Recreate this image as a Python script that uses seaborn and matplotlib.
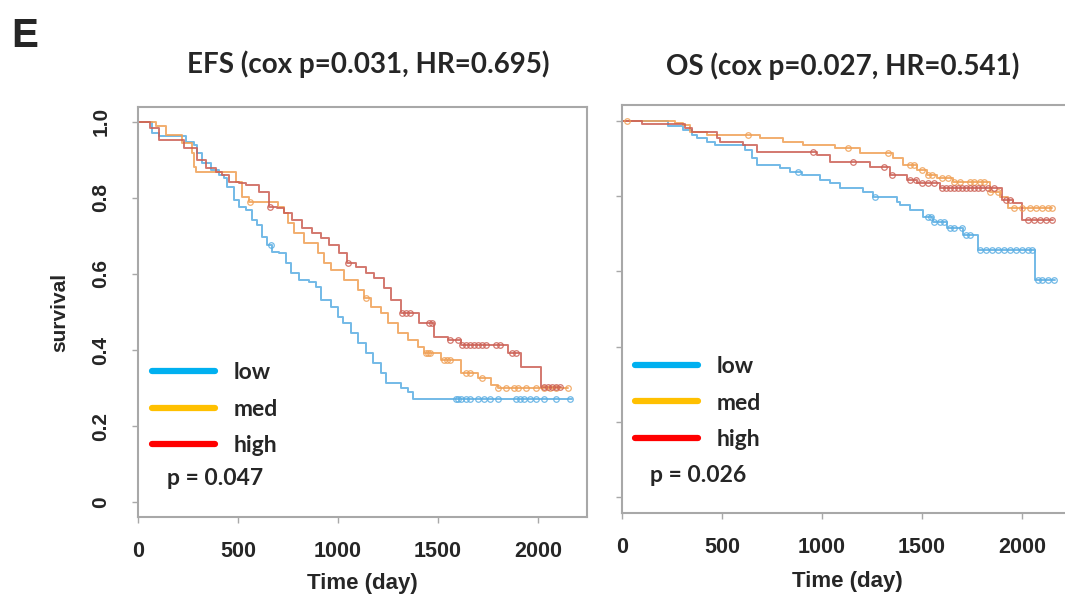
import numpy as np
import pandas as pd
import matplotlib
matplotlib.use("Agg")
import matplotlib.pyplot as plt
import seaborn as sns
from matplotlib.lines import Line2D

sns.set_theme(style="white")
plt.rcParams['font.family'] = ['Liberation Sans', 'DejaVu Sans']

# ---------------- data ----------------
groups = ["low", "med", "high"]

# EFS panel (step change times / survival after step)
efs_low_t = [0, 70, 105, 240, 280, 295, 320, 365, 405, 430, 445, 480, 505, 540, 570, 595, 620, 645, 670, 705,
             740, 765, 805, 855, 890, 915, 965, 1000, 1025, 1065, 1100, 1140, 1175, 1215, 1240, 1315, 1350, 1375, 2170]
efs_low_s = [1.0, 0.971, 0.963, 0.947, 0.939, 0.918, 0.892, 0.874, 0.86, 0.853, 0.829, 0.795, 0.776, 0.768, 0.742,
             0.729, 0.697, 0.676, 0.658, 0.655, 0.629, 0.603, 0.584, 0.579, 0.566, 0.532, 0.513, 0.487, 0.471, 0.445,
             0.418, 0.392, 0.366, 0.339, 0.313, 0.30, 0.29, 0.272, 0.272]
efs_low_c = [665, 1590, 1600, 1615, 1640, 1660, 1700, 1730, 1760, 1800, 1890, 1910, 1930, 1960, 1990, 2030, 2090, 2160]

efs_med_t = [0, 90, 140, 220, 270, 280, 290, 490, 520, 555, 700, 730, 750, 780, 830, 900, 930, 965, 1030,
             1100, 1130, 1165, 1215, 1250, 1300, 1350, 1400, 1430, 1515, 1615, 1700, 1765, 1800, 2150]
efs_med_s = [1.0, 0.99, 0.966, 0.945, 0.918, 0.882, 0.868, 0.842, 0.803, 0.79, 0.776, 0.76, 0.734, 0.708,
             0.682, 0.655, 0.629, 0.611, 0.584, 0.558, 0.537, 0.513, 0.497, 0.471, 0.445, 0.426, 0.408, 0.392,
             0.374, 0.34, 0.326, 0.308, 0.30, 0.30]
efs_med_c = [560, 1140, 1440, 1450, 1460, 1530, 1545, 1560, 1640, 1660, 1720, 1800, 1840, 1880, 1900, 1940,
             1990, 2030, 2060, 2090, 2150]

efs_high_t = [0, 60, 105, 230, 295, 340, 390, 420, 455, 505, 540, 605, 655, 695, 730, 770, 820, 870, 915, 955,
              1005, 1045, 1090, 1140, 1180, 1230, 1265, 1315, 1405, 1480, 1550, 1615, 1850, 1915, 2015, 2115]
efs_high_s = [1.0, 0.985, 0.953, 0.93, 0.90, 0.879, 0.868, 0.861, 0.842, 0.839, 0.834, 0.816, 0.776, 0.774,
              0.76, 0.742, 0.721, 0.708, 0.695, 0.676, 0.655, 0.629, 0.618, 0.603, 0.589, 0.563, 0.532, 0.497,
              0.471, 0.434, 0.426, 0.413, 0.392, 0.355, 0.303, 0.303]
efs_high_c = [660, 1050, 1320, 1340, 1360, 1455, 1470, 1560, 1600, 1620, 1640, 1660, 1680, 1700, 1720, 1740,
              1790, 1810, 1870, 1890, 2030, 2050, 2070, 2090, 2110]

# OS panel
os_low_t = [0, 230, 305, 350, 375, 425, 465, 615, 650, 675, 790, 840, 900, 990, 1040, 1090, 1205, 1255, 1375,
            1390, 1440, 1505, 1555, 1625, 1705, 1780, 2065, 2165]
os_low_s = [1.0, 0.987, 0.976, 0.963, 0.955, 0.944, 0.936, 0.923, 0.902, 0.883, 0.875, 0.864, 0.856, 0.843,
            0.835, 0.822, 0.811, 0.798, 0.785, 0.777, 0.763, 0.745, 0.731, 0.715, 0.697, 0.657, 0.577, 0.577]
os_low_c = [880, 1265, 1530, 1545, 1560, 1590, 1610, 1640, 1660, 1700, 1720, 1740, 1790, 1820, 1850, 1880,
            1910, 1940, 1970, 2000, 2030, 2050, 2080, 2100, 2130, 2160]

os_med_t = [0, 265, 305, 340, 425, 690, 805, 905, 1065, 1190, 1355, 1405, 1475, 1525, 1575, 1655, 1840, 1890,
            1930, 2150]
os_med_s = [1.0, 0.995, 0.989, 0.971, 0.963, 0.955, 0.944, 0.936, 0.928, 0.915, 0.902, 0.883, 0.87, 0.856,
            0.848, 0.838, 0.811, 0.798, 0.769, 0.769]
os_med_c = [25, 630, 1130, 1330, 1440, 1460, 1500, 1530, 1550, 1600, 1630, 1660, 1690, 1740, 1760, 1790,
            1810, 1840, 1880, 1960, 2000, 2040, 2070, 2100, 2130, 2150]

os_high_t = [0, 100, 315, 350, 475, 490, 605, 675, 975, 1040, 1240, 1340, 1425, 1475, 1590, 1900, 1955, 2000,
             2155]
os_high_s = [1.0, 0.992, 0.981, 0.971, 0.955, 0.944, 0.936, 0.918, 0.91, 0.891, 0.878, 0.856, 0.843, 0.835,
             0.822, 0.79, 0.782, 0.737, 0.737]
os_high_c = [955, 1155, 1310, 1350, 1440, 1470, 1500, 1530, 1560, 1600, 1620, 1640, 1660, 1680, 1700, 1720,
             1740, 1760, 1780, 1800, 1830, 1860, 1920, 1940, 2030, 2060, 2090, 2120, 2150]

titles = ["EFS (cox p=0.031, HR=0.695)", "OS (cox p=0.027, HR=0.541)"]
pvals = ["p = 0.047", "p = 0.026"]
xticks = [0, 500, 1000, 1500, 2000]
yticks = [0, 0.2, 0.4, 0.6, 0.8, 1.0]
ytick_labels = ["0", "0.2", "0.4", "0.6", "0.8", "1.0"]

curve_colors = {"low": "#5AAEE3", "med": "#F0A055", "high": "#CC6055"}
legend_colors = {"low": "#00B0F0", "med": "#FFC000", "high": "#FF0000"}

panels = [
    {"t": [efs_low_t, efs_med_t, efs_high_t], "s": [efs_low_s, efs_med_s, efs_high_s],
     "c": [efs_low_c, efs_med_c, efs_high_c]},
    {"t": [os_low_t, os_med_t, os_high_t], "s": [os_low_s, os_med_s, os_high_s],
     "c": [os_low_c, os_med_c, os_high_c]},
]

# ---------------- figure ----------------
W, H = 1065, 598
fig = plt.figure(figsize=(W / 100, H / 100), dpi=100)
fig.patch.set_facecolor("white")

def px_axes(x0, y0, x1, y1):
    return fig.add_axes([x0 / W, 1 - y1 / H, (x1 - x0) / W, (y1 - y0) / H])

ax1 = px_axes(138, 107, 587, 517)
ax2 = px_axes(622, 105, 1072, 513)
axes = [ax1, ax2]
ylims = [(-0.039, 1.039), (-0.043, 1.043)]

title_font = ["Lato", "DejaVu Sans"]
frame_col = "#A8A8A8"

for i, (ax, p) in enumerate(zip(axes, panels)):
    rows = []
    for g, tt, ss in zip(groups, p["t"], p["s"]):
        for a, b in zip(tt, ss):
            rows.append({"time": a, "survival": b, "group": g})
    df = pd.DataFrame(rows)
    sns.lineplot(data=df, x="time", y="survival", hue="group", hue_order=groups,
                 palette=curve_colors, drawstyle="steps-post", estimator=None, sort=False,
                 legend=False, ax=ax, linewidth=1.4, alpha=0.85)
    # censor marks
    for g, tt, ss, cc in zip(groups, p["t"], p["s"], p["c"]):
        tt_a = np.array(tt); ss_a = np.array(ss)
        idx = np.searchsorted(tt_a, np.array(cc), side="right") - 1
        cs = ss_a[idx]
        ax.plot(cc, cs, linestyle="none", marker="o", ms=4.0, mfc="none",
                mec=curve_colors[g], mew=0.9, alpha=0.85)

    ax.set_xlim(0, 2245 if i == 0 else 2250)
    ax.set_ylim(*ylims[i])
    ax.set_xticks(xticks)
    ax.set_yticks(yticks)
    ax.set_xlabel("Time (day)", fontsize=16, fontweight="bold", labelpad=8 if i == 0 else 10)
    ax.set_ylabel("survival" if i == 0 else "", fontsize=15, fontweight="bold", labelpad=16)
    ax.set_xticklabels([str(v) for v in xticks], fontsize=15.5, fontweight="bold")
    if i == 0:
        ax.set_yticklabels(ytick_labels, fontsize=15, fontweight="bold", rotation=90, va="center")
    else:
        ax.set_yticklabels([])
    ax.tick_params(axis="both", direction="out", length=4, width=1, color=frame_col,
                   left=True, bottom=True)
    ax.tick_params(axis="y", pad=16)
    ax.tick_params(axis="x", pad=13)
    for sp in ax.spines.values():
        sp.set_color(frame_col)
        sp.set_linewidth(1.5)
    ax.set_facecolor("white")

    handles = [Line2D([0], [0], color=legend_colors[g], lw=4.5) for g in groups]
    ax.legend(handles, groups, loc="upper left",
              bbox_to_anchor=((0.031, 0.378) if i == 0 else (0.028, 0.385)),
              frameon=False, borderpad=0, borderaxespad=0, handlelength=2.75,
              handletextpad=0.83, labelspacing=0.68,
              prop={"family": title_font, "weight": "bold", "size": 16.5})
    ax.text(0.065 if i == 0 else 0.062, 0.095 if i == 0 else 0.091, pvals[i],
            transform=ax.transAxes, ha="left", va="center", fontsize=16.5,
            fontweight="bold", family=title_font)

fig.text(368 / W, 1 - 64 / H, titles[0], ha="center", va="center", fontsize=20,
         fontweight="bold", family=title_font)
fig.text(843 / W, 1 - 66 / H, titles[1], ha="center", va="center", fontsize=20,
         fontweight="bold", family=title_font)
fig.text(25 / W, 1 - 36 / H, "E", ha="center", va="center", fontsize=29, fontweight="bold")

fig.savefig("out.png", dpi=100, facecolor="white")
